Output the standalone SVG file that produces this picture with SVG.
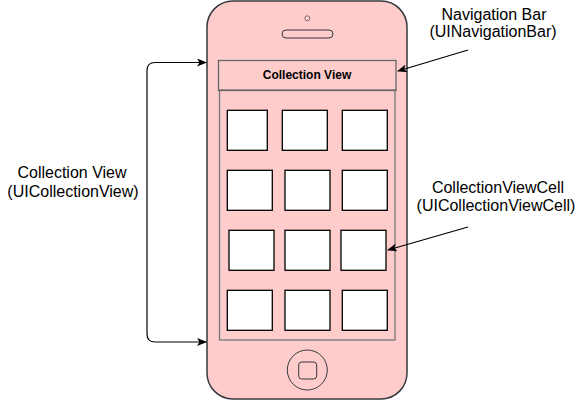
<svg xmlns="http://www.w3.org/2000/svg" width="583" height="401" viewBox="0 0 583 401">
<defs>
<marker id="arr" viewBox="0 0 10 8" refX="9" refY="4" markerWidth="10" markerHeight="8" markerUnits="userSpaceOnUse" orient="auto-start-reverse">
<path d="M0,0 L10,4 L0,8 L2.5,4 Z" fill="#000"/>
</marker>
</defs>
<style>
.lbl{font-family:"Liberation Sans",Arial,sans-serif;font-size:16px;fill:#000;text-anchor:middle}
.cell{fill:#fff;stroke:#000;stroke-width:1.3}
.edge{fill:none;stroke:#000;stroke-width:1.2}
</style>
<rect x="0" y="0" width="583" height="401" fill="#fff"/>
<g id="phone">
<rect x="207" y="1" width="200" height="398" rx="26" ry="26" fill="#ffcccc" stroke="#36393d" stroke-width="1.5"/>
<circle cx="307.3" cy="18.3" r="2.5" fill="none" stroke="#7a6a6a" stroke-width="1"/>
<rect x="282" y="30" width="51" height="8" rx="4" ry="4" fill="none" stroke="#36393d" stroke-width="1"/>
<circle cx="307.3" cy="370" r="20" fill="none" stroke="#36393d" stroke-width="1"/>
<rect x="298.7" y="362" width="18" height="17" rx="3" ry="3" fill="none" stroke="#36393d" stroke-width="1"/>
</g>
<g id="collection-view">
<rect x="219.5" y="90" width="175.5" height="250" fill="none" stroke="#777" stroke-width="1.3"/>
</g>
<g id="navigation-bar">
<rect x="218.5" y="60.5" width="177.5" height="30" fill="none" stroke="#666" stroke-width="1.3"/>
<text x="307" y="79" style="font-family:'Liberation Sans',Arial,sans-serif;font-size:12px;font-weight:bold;text-anchor:middle">Collection View</text>
</g>
<g id="cells">
<rect class="cell" x="227.3" y="110.3" width="40" height="40"/>
<rect class="cell" x="282.3" y="110.3" width="45" height="40"/>
<rect class="cell" x="342.3" y="110.3" width="45" height="40"/>
<rect class="cell" x="227.3" y="170.3" width="45" height="40"/>
<rect class="cell" x="285" y="170.3" width="45" height="40"/>
<rect class="cell" x="342.3" y="170.3" width="45" height="40"/>
<rect class="cell" x="229" y="230.3" width="45" height="40"/>
<rect class="cell" x="285" y="230.3" width="45" height="40"/>
<rect class="cell" x="341" y="230.3" width="45" height="40"/>
<rect class="cell" x="227.3" y="290.3" width="45" height="40"/>
<rect class="cell" x="285" y="290.3" width="45" height="40"/>
<rect class="cell" x="342.3" y="290.3" width="45" height="40"/>
</g>
<g id="label-collection-view">
<text class="lbl" x="72" y="178">Collection View</text>
<text class="lbl" x="73" y="197">(UICollectionView)</text>
</g>
<g id="label-navigation-bar">
<text class="lbl" x="494" y="20">Navigation Bar</text>
<text class="lbl" x="493" y="37">(UINavigationBar)</text>
</g>
<g id="label-cell">
<text class="lbl" x="498" y="193">CollectionViewCell</text>
<text class="lbl" x="496" y="211">(UICollectionViewCell)</text>
</g>
<g id="connectors">
<path class="edge" d="M206,62.5 L155,62.5 Q147,62.5 147,70.5 L147,334 Q147,342 155,342 L206,342" marker-start="url(#arr)" marker-end="url(#arr)"/>
<path class="edge" d="M468,50 L398,71" marker-end="url(#arr)"/>
<path class="edge" d="M468,227 L388,250" marker-end="url(#arr)"/>
</g>
</svg>
